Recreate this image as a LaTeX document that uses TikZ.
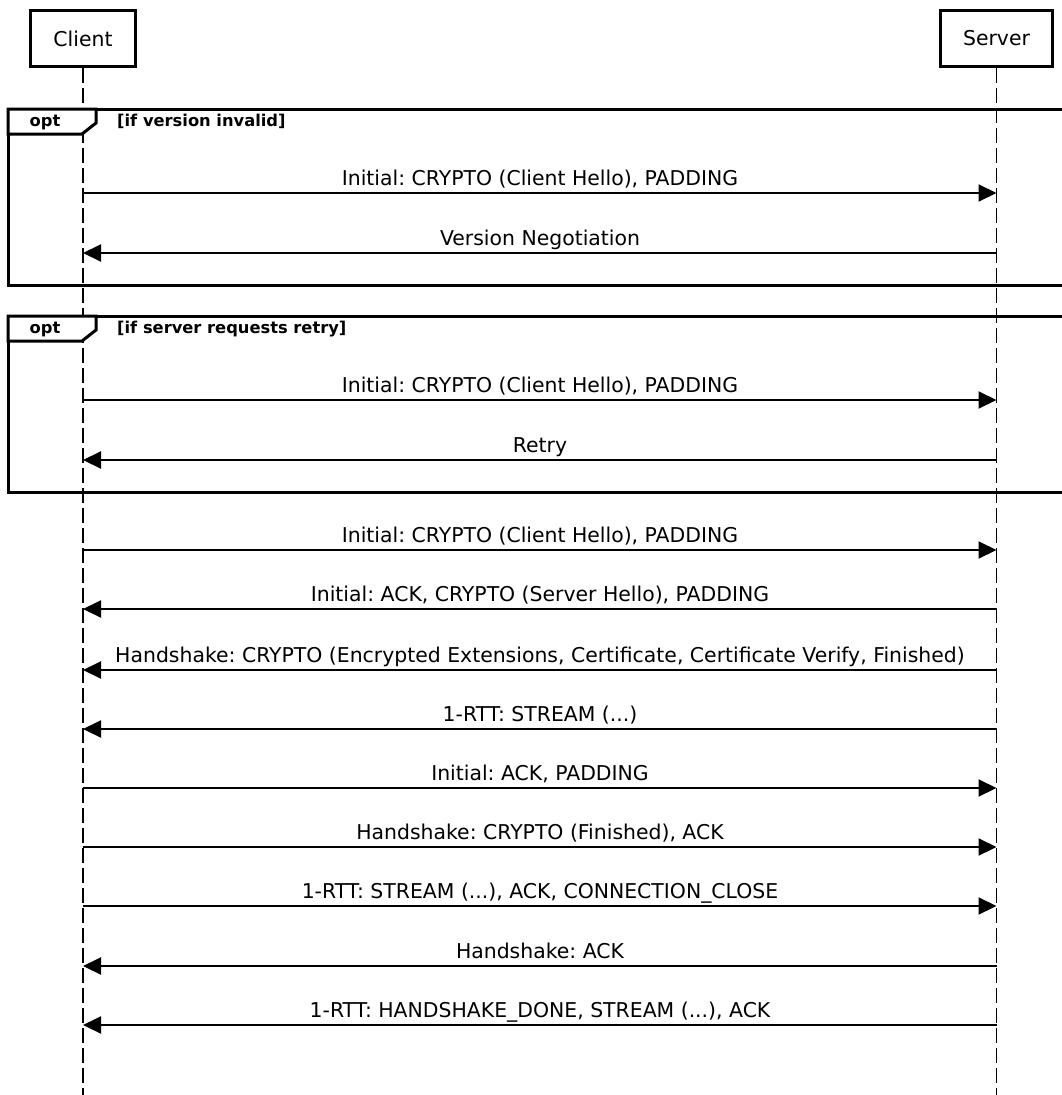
\documentclass[tikz,border=0pt]{standalone}
\usepackage{fontspec}
\setmainfont{DejaVu Sans}
\usetikzlibrary{arrows.meta}
\frenchspacing
\begin{document}
\begin{tikzpicture}[x=1pt,y=-1pt,
  actor/.style={draw,line width=3.3pt,minimum height=56pt,inner sep=0pt,font=\fontsize{20.4}{24}\selectfont},
  life/.style={line width=1.8pt,dash pattern=on 15pt off 5pt},
  msg/.style={line width=2pt,-{Triangle[length=18pt,width=17pt]}},
  lbl/.style={anchor=base,inner sep=0pt,font=\fontsize{20.4}{24}\selectfont},
  frame/.style={line width=3pt},
  flbl/.style={anchor=base,inner sep=0pt,font=\fontsize{16.3}{19}\bfseries\selectfont}]
\clip (0,0) rectangle (1062,1095);
\node[actor,minimum width=105pt] (client) at (83,38.5) {Client};
\node[actor,minimum width=112pt] (server) at (996.5,38.5) {Server};
\coordinate (cend) at (83,1095);
\coordinate (send) at (996.5,1095);
\draw[life] (client.south) -- (cend);
\draw[life] (server.south) -- (send);
% frames
\draw[frame] (8,109) rectangle (1085,285);
\draw[frame,fill=white] (8,109) -- (96,109) -- (96,123) -- (82,134) -- (8,134) -- cycle;
\node[flbl] (opt1) at (45,126) {opt};
\node[flbl,anchor=base west] (cond1) at (117,126) {[if version invalid]};
\draw[frame] (8,316) rectangle (1085,492);
\draw[frame,fill=white] (8,316) -- (96,316) -- (96,330) -- (82,341) -- (8,341) -- cycle;
\node[flbl] (opt2) at (45,333) {opt};
\node[flbl,anchor=base west] (cond2) at (117,333) {[if server requests retry]};
% messages
\foreach \i/\y in {1/193,2/253,3/400,4/460,5/550,6/609,7/670,8/729,9/788,10/847,11/906,12/966,13/1025}{
  \coordinate (c\i) at (83,\y);
  \coordinate (s\i) at (996.5,\y);
  \coordinate (m\i) at (540,\y-8);
}
\draw[msg] (c1) -- (s1);
\node[lbl] at (m1) {Initial: CRYPTO (Client Hello), PADDING};
\draw[msg] (s2) -- (c2);
\node[lbl] at (m2) {Version Negotiation};
\draw[msg] (c3) -- (s3);
\node[lbl] at (m3) {Initial: CRYPTO (Client Hello), PADDING};
\draw[msg] (s4) -- (c4);
\node[lbl] at (m4) {Retry};
\draw[msg] (c5) -- (s5);
\node[lbl] at (m5) {Initial: CRYPTO (Client Hello), PADDING};
\draw[msg] (s6) -- (c6);
\node[lbl] at (m6) {Initial: ACK, CRYPTO (Server Hello), PADDING};
\draw[msg] (s7) -- (c7);
\node[lbl] at (m7) {Handshake: CRYPTO (Encrypted Extensions, Certificate, Certificate Verify, Finished)};
\draw[msg] (s8) -- (c8);
\node[lbl] at (m8) {1-RTT: STREAM (...)};
\draw[msg] (c9) -- (s9);
\node[lbl] at (m9) {Initial: ACK, PADDING};
\draw[msg] (c10) -- (s10);
\node[lbl] at (m10) {Handshake: CRYPTO (Finished), ACK};
\draw[msg] (c11) -- (s11);
\node[lbl] at (m11) {1-RTT: STREAM (...), ACK, CONNECTION\_CLOSE};
\draw[msg] (s12) -- (c12);
\node[lbl] at (m12) {Handshake: ACK};
\draw[msg] (s13) -- (c13);
\node[lbl] at (m13) {1-RTT: HANDSHAKE\_DONE, STREAM (...), ACK};
\end{tikzpicture}
\end{document}
